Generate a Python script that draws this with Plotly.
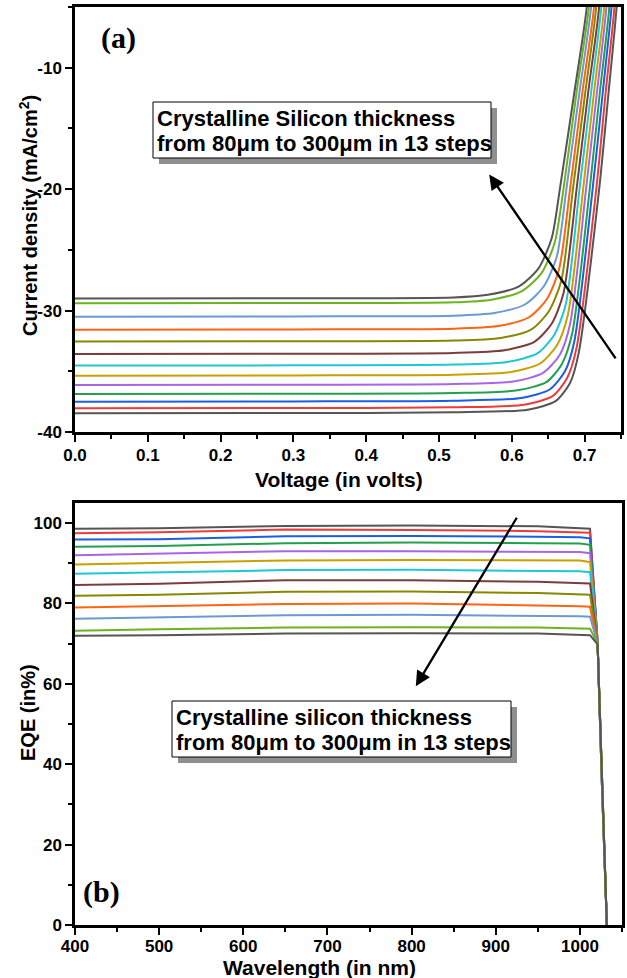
import plotly.graph_objects as go

W, H = 627, 978

# ---------------- data: J-V curves (index 0 = 300 um ... 12 = 80 um) ----------------
COLORS = ["#555555", "#f03a3a", "#1a5ee6", "#22a050", "#a866e6", "#c8a000",
          "#1ec8d2", "#7b3c3c", "#888800", "#ff6410", "#6a9ad4", "#6ab41e", "#555555"]

JSC = [-38.46, -38.05, -37.50, -36.87, -36.13, -35.36, -34.53,
       -33.57, -32.55, -31.57, -30.50, -29.40, -29.00]
# rise above Jsc used for the knee points
KNEE_RISE = [0.0, 0.02, 0.08, 0.3, 1.0, 2.5, 5.0]
V_FLAT = [0.0, 0.30, 0.52]
V_RISE03 = [0.622, 0.617, 0.613, 0.608, 0.604, 0.599, 0.594, 0.590, 0.585, 0.581, 0.576, 0.572, 0.567]
V_RISE1 = [0.660, 0.656, 0.652, 0.648, 0.643, 0.639, 0.635, 0.631, 0.627, 0.623, 0.618, 0.614, 0.610]
V_RISE25 = [0.680, 0.676, 0.673, 0.669, 0.666, 0.662, 0.658, 0.655, 0.651, 0.648, 0.644, 0.641, 0.637]
V_RISE5 = [0.692, 0.689, 0.686, 0.683, 0.680, 0.677, 0.674, 0.671, 0.668, 0.665, 0.662, 0.659, 0.655]
# upper branch: voltage where J reaches fixed levels
J_UPPER = [-20.0, -12.0, -5.0, 3.0]
V_AT_M20 = [0.720, 0.716, 0.711, 0.707, 0.702, 0.698, 0.693, 0.689, 0.684, 0.680, 0.675, 0.671, 0.666]
V_AT_M12 = [0.733, 0.729, 0.725, 0.721, 0.717, 0.713, 0.709, 0.705, 0.701, 0.697, 0.693, 0.689, 0.686]
V_AT_M5 = [0.744, 0.741, 0.737, 0.734, 0.730, 0.727, 0.723, 0.720, 0.716, 0.713, 0.709, 0.706, 0.703]
V_AT_P3 = [0.752, 0.749, 0.745, 0.742, 0.738, 0.735, 0.731, 0.728, 0.724, 0.721, 0.717, 0.714, 0.711]

# ---------------- data: EQE curves (index 0 = 300 um ... 12 = 80 um) ----------------
WAVELENGTH = [400, 500, 650, 800, 950, 1000, 1012, 1021, 1026, 1032]
EQE_CURVES = [
    [98.6, 98.7, 99.3, 99.4, 99.2, 98.8, 98.6, 70.5, 36.0, 0.0],
    [97.5, 97.7, 98.4, 98.3, 98.0, 97.8, 97.6, 70.3, 36.0, 0.0],
    [95.9, 96.0, 96.7, 96.8, 96.6, 96.5, 96.2, 70.2, 36.0, 0.0],
    [94.1, 94.3, 95.0, 95.2, 95.0, 94.9, 94.6, 70.2, 36.0, 0.0],
    [92.0, 92.4, 93.0, 93.0, 92.8, 92.8, 92.5, 70.1, 36.0, 0.0],
    [89.7, 90.1, 90.7, 90.8, 90.6, 90.7, 90.3, 70.1, 36.0, 0.0],
    [87.4, 87.8, 88.3, 88.4, 88.2, 88.0, 87.8, 70.0, 36.0, 0.0],
    [84.6, 84.9, 85.8, 85.8, 85.4, 85.1, 85.0, 70.0, 36.0, 0.0],
    [81.9, 82.2, 82.9, 83.0, 82.6, 82.2, 82.2, 70.0, 36.0, 0.0],
    [79.0, 79.3, 79.9, 80.0, 79.6, 79.3, 79.2, 70.0, 36.0, 0.0],
    [76.2, 76.5, 77.1, 77.2, 77.0, 76.8, 76.7, 70.0, 36.0, 0.0],
    [73.2, 73.6, 74.0, 74.1, 74.0, 73.7, 73.7, 70.0, 36.0, 0.0],
    [72.0, 72.1, 72.5, 72.6, 72.5, 72.1, 72.1, 69.8, 36.0, 0.0],
]

JV_XTICKS = [0.0, 0.1, 0.2, 0.3, 0.4, 0.5, 0.6, 0.7]
JV_XTEXT = ["0.0", "0.1", "0.2", "0.3", "0.4", "0.5", "0.6", "0.7"]
JV_YTICKS = [-40, -30, -20, -10]
JV_YTEXT = ["-40", "-30", "-20", "-10"]
EQE_XTICKS = [400, 500, 600, 700, 800, 900, 1000]
EQE_YTICKS = [0, 20, 40, 60, 80, 100]

# ---------------- geometry (pixels) ----------------
TOP_L, TOP_R, TOP_T, TOP_B = 75, 621, 7, 432
BOT_L, BOT_R, BOT_T, BOT_B = 75, 622, 503, 925


def px(x):
    return x / W


def py(y):
    return 1 - y / H


SANS = "Liberation Sans, Arial, sans-serif"
SERIF = "Liberation Serif, Times New Roman, serif"

fig = go.Figure()

for i in range(len(JSC)):
    v = V_FLAT + [V_RISE03[i], V_RISE1[i], V_RISE25[i], V_RISE5[i],
                  V_AT_M20[i], V_AT_M12[i], V_AT_M5[i], V_AT_P3[i]]
    j = [JSC[i] + r for r in KNEE_RISE] + J_UPPER
    fig.add_trace(go.Scatter(x=v, y=j, mode="lines", xaxis="x", yaxis="y",
                             line=dict(color=COLORS[i], width=2, shape="spline", smoothing=0.7),
                             showlegend=False, hoverinfo="skip"))

for i, vals in enumerate(EQE_CURVES):
    fig.add_trace(go.Scatter(x=WAVELENGTH, y=vals, mode="lines", xaxis="x2", yaxis="y2",
                             line=dict(color=COLORS[i], width=2),
                             showlegend=False, hoverinfo="skip"))

axis_common = dict(showline=True, linecolor="black", linewidth=2.5, mirror=True,
                   ticks="outside", ticklen=7, tickwidth=2, tickcolor="black",
                   showgrid=False, zeroline=False, automargin=False,
                   tickfont=dict(family=SANS, size=17, color="black", weight="bold"))
minor_common = dict(ticks="outside", ticklen=4, tickwidth=2, tickcolor="black", showgrid=False)

fig.update_layout(
    template="none",
    width=W, height=H, margin=dict(l=0, r=0, t=0, b=0, pad=0, autoexpand=False),
    paper_bgcolor="white", plot_bgcolor="white", showlegend=False,
    xaxis=dict(domain=[px(TOP_L), px(TOP_R)], range=[0, 0.75], anchor="y",
               tickvals=JV_XTICKS, ticktext=JV_XTEXT, ticklabelstandoff=-1,
               minor=dict(dtick=0.05, tick0=0, **minor_common), **axis_common),
    yaxis=dict(domain=[py(TOP_B), py(TOP_T)], range=[-40, -5], anchor="x",
               tickvals=JV_YTICKS, ticktext=JV_YTEXT,
               minor=dict(dtick=5, tick0=-40, **minor_common), **axis_common),
    xaxis2=dict(domain=[px(BOT_L), px(BOT_R)], range=[400, 1050], anchor="y2",
                tickvals=EQE_XTICKS, ticklabelstandoff=-3,
                minor=dict(dtick=50, tick0=400, **minor_common), **axis_common),
    yaxis2=dict(domain=[py(BOT_B), py(BOT_T)], range=[0, 105], anchor="x2",
                tickvals=EQE_YTICKS,
                minor=dict(dtick=10, tick0=0, **minor_common), **axis_common),
)

ann = []
title_font_h = dict(family=SANS, size=21, color="black", weight="bold")
title_font_v = dict(family=SANS, size=20, color="black", weight="bold")
ann.append(dict(text="Current density (mA/cm<sup>2</sup>)", x=px(28), y=py(216), xref="paper", yref="paper",
                textangle=-90, showarrow=False, font=title_font_v, xanchor="center", yanchor="middle"))
ann.append(dict(text="Voltage (in volts)", x=px(339), y=py(479), xref="paper", yref="paper",
                showarrow=False, font=title_font_h, xanchor="center", yanchor="middle"))
ann.append(dict(text="EQE (in%)", x=px(28), y=py(713), xref="paper", yref="paper",
                textangle=-90, showarrow=False, font=title_font_v, xanchor="center", yanchor="middle"))
ann.append(dict(text="Wavelength (in nm)", x=px(319), y=py(967), xref="paper", yref="paper",
                showarrow=False, font=title_font_h, xanchor="center", yanchor="middle"))

label_font = dict(family=SERIF, size=30, color="black", weight="bold")
ann.append(dict(text="(a)", x=px(118), y=py(38), xref="paper", yref="paper", showarrow=False,
                font=label_font, xanchor="center", yanchor="middle"))
ann.append(dict(text="(b)", x=px(101), y=py(892), xref="paper", yref="paper", showarrow=False,
                font=label_font, xanchor="center", yanchor="middle"))

box_font = dict(family=SANS, size=22, color="black", weight="bold")
shapes = []


def text_box(x0, y0, x1, y1, lines):
    shapes.append(dict(type="rect", xref="paper", yref="paper", x0=px(x0 + 6), x1=px(x1 + 6),
                       y0=py(y1 + 6), y1=py(y0 + 6), fillcolor="#8f8f8f", line=dict(width=0), layer="above"))
    shapes.append(dict(type="rect", xref="paper", yref="paper", x0=px(x0), x1=px(x1),
                       y0=py(y1), y1=py(y0), fillcolor="white", line=dict(color="black", width=1), layer="above"))
    for k, t in enumerate(lines):
        ann.append(dict(text=t, x=px(x0 + 2), y=py(y0 + 16 + 25 * k), xref="paper", yref="paper",
                        showarrow=False, font=box_font, xanchor="left", yanchor="middle"))


text_box(153, 102, 491, 158, ["Crystalline Silicon thickness", "from 80μm to 300μm in 13 steps"])
text_box(172, 701, 511, 757, ["Crystalline silicon thickness", "from 80μm to 300μm in 13 steps"])

# arrows
ann.append(dict(x=0.569, y=-18.8, ax=0.744, ay=-34.06, xref="x", yref="y", axref="x", ayref="y",
                text="", showarrow=True, arrowhead=2, arrowsize=1.3, arrowwidth=2.3, arrowcolor="black", standoff=0))
ann.append(dict(x=805, y=59.4, ax=926, ay=101.7, xref="x2", yref="y2", axref="x2", ayref="y2",
                text="", showarrow=True, arrowhead=2, arrowsize=1.3, arrowwidth=2.3, arrowcolor="black", standoff=0))

fig.update_layout(annotations=ann, shapes=shapes)
fig.write_html("out.html")
